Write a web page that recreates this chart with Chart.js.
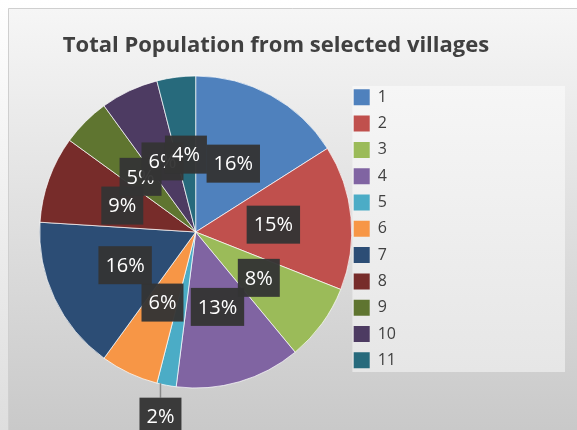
<!DOCTYPE html>
<html>
  <head>
    <title>Total Population</title>
    <script src="https://cdn.jsdelivr.net/npm/chart.js"></script>
    <style>
      body {
        margin: 0;
        padding: 0;
        background: #ffffff;
        font-family: "Open Sans", Arial, sans-serif;
      }
      #wrap {
        width: 577px;
        height: 430px;
      }
    </style>
  </head>
  <body>
    <div id="wrap"><canvas id="myChart" width="577" height="430"></canvas></div>
    <script>
      // villages and their share of the total population (%)
      const villages = ["1", "2", "3", "4", "5", "6", "7", "8", "9", "10", "11"];
      const population = [16, 15, 8, 13, 2, 6, 16, 9, 5, 6, 4];
      const sliceColors = [
        "#4F81BD", "#C0504D", "#9BBB59", "#8064A2", "#4BACC6", "#F79646",
        "#2C4D75", "#772C2A", "#5F7530", "#4D3B62", "#276A7C",
      ];
      const chartTitle = "Total Population from selected villages";

      // background frame, legend panel and title (Excel look)
      const frame = {
        id: "frame",
        beforeDraw(chart) {
          const ctx = chart.ctx;
          const w = chart.width, h = chart.height;
          ctx.save();
          let g = ctx.createLinearGradient(0, 0, 0, h);
          g.addColorStop(0, "#ffffff");
          g.addColorStop(1, "#dedede");
          ctx.fillStyle = g;
          ctx.fillRect(0, 0, w, h);
          g = ctx.createLinearGradient(0, 8, 0, h);
          g.addColorStop(0, "#f6f6f6");
          g.addColorStop(1, "#c9c9c9");
          ctx.fillStyle = g;
          ctx.fillRect(8, 8, w - 8, h - 8);
          ctx.strokeStyle = "#cfcfcf";
          ctx.lineWidth = 1;
          ctx.beginPath();
          ctx.moveTo(8.5, h);
          ctx.lineTo(8.5, 8.5);
          ctx.lineTo(w, 8.5);
          ctx.stroke();
          // legend panel
          const lg = chart.legend;
          const px = lg.left + 9, py = lg.top + 7;
          g = ctx.createLinearGradient(0, py, 0, 372);
          g.addColorStop(0, "#f6f6f6");
          g.addColorStop(1, "#e6e6e6");
          ctx.fillStyle = g;
          ctx.fillRect(px, py, 565 - px, 372 - py);
          ctx.restore();
        },
        afterDraw(chart) {
          const ctx = chart.ctx;
          ctx.save();
          ctx.font = "bold 22px 'Open Sans', Arial, sans-serif";
          ctx.fillStyle = "#404040";
          ctx.textAlign = "center";
          ctx.textBaseline = "middle";
          ctx.fillText(chartTitle, 276, 46);
          ctx.restore();
        },
      };

      // percentage labels in dark boxes
      const pctLabels = {
        id: "pctLabels",
        afterDatasetsDraw(chart) {
          const ctx = chart.ctx;
          const meta = chart.getDatasetMeta(0);
          const values = chart.data.datasets[0].data;
          const total = values.reduce((a, b) => a + b, 0);
          ctx.save();
          ctx.font = "20px 'Open Sans', Arial, sans-serif";
          ctx.textAlign = "center";
          ctx.textBaseline = "middle";
          meta.data.forEach((arc, i) => {
            const pct = values[i] / total;
            const text = Math.round(pct * 100) + "%";
            const mid = (arc.startAngle + arc.endAngle) / 2;
            const bh = 38;
            let x, y;
            if (pct < 0.03) {
              const r = arc.outerRadius + 32;
              x = arc.x + Math.cos(mid) * r;
              y = arc.y + Math.sin(mid) * r;
              ctx.strokeStyle = "#8a8a8a";
              ctx.lineWidth = 1.5;
              ctx.beginPath();
              ctx.moveTo(x, arc.y + Math.sin(mid) * arc.outerRadius - 2);
              ctx.lineTo(x, y - bh / 2);
              ctx.stroke();
            } else {
              const p = arc.tooltipPosition();
              x = p.x;
              y = p.y;
            }
            const tw = ctx.measureText(text).width;
            const bw = tw + 14;
            ctx.fillStyle = "rgba(52,52,52,0.96)";
            ctx.fillRect(x - bw / 2, y - bh / 2, bw, bh);
            ctx.fillStyle = "#ffffff";
            ctx.fillText(text, x, y + 1);
          });
          ctx.restore();
        },
      };

      const baseLabels = Chart.overrides.pie.plugins.legend.labels.generateLabels;

      new Chart(document.getElementById("myChart"), {
        type: "pie",
        data: {
          labels: villages,
          datasets: [
            {
              data: population,
              backgroundColor: sliceColors,
              borderColor: "rgba(255,255,255,0.7)",
              borderWidth: 1,
              radius: 156,
            },
          ],
        },
        options: {
          responsive: false,
          animation: false,
          layout: {
            padding: { left: 48, right: 171, top: 79, bottom: 45 },
          },
          plugins: {
            title: { display: false },
            tooltip: { enabled: false },
            legend: {
              position: "right",
              align: "start",
              labels: {
                boxWidth: 16,
                boxHeight: 16,
                padding: 10.3,
                color: "#404040",
                font: { family: "'Open Sans', Arial, sans-serif", size: 16 },
                generateLabels: (chart) =>
                  baseLabels(chart).map((l) => ({ ...l, strokeStyle: l.fillStyle, lineWidth: 0 })),
              },
            },
          },
        },
        plugins: [frame, pctLabels],
      });
    </script>
  </body>
</html>
